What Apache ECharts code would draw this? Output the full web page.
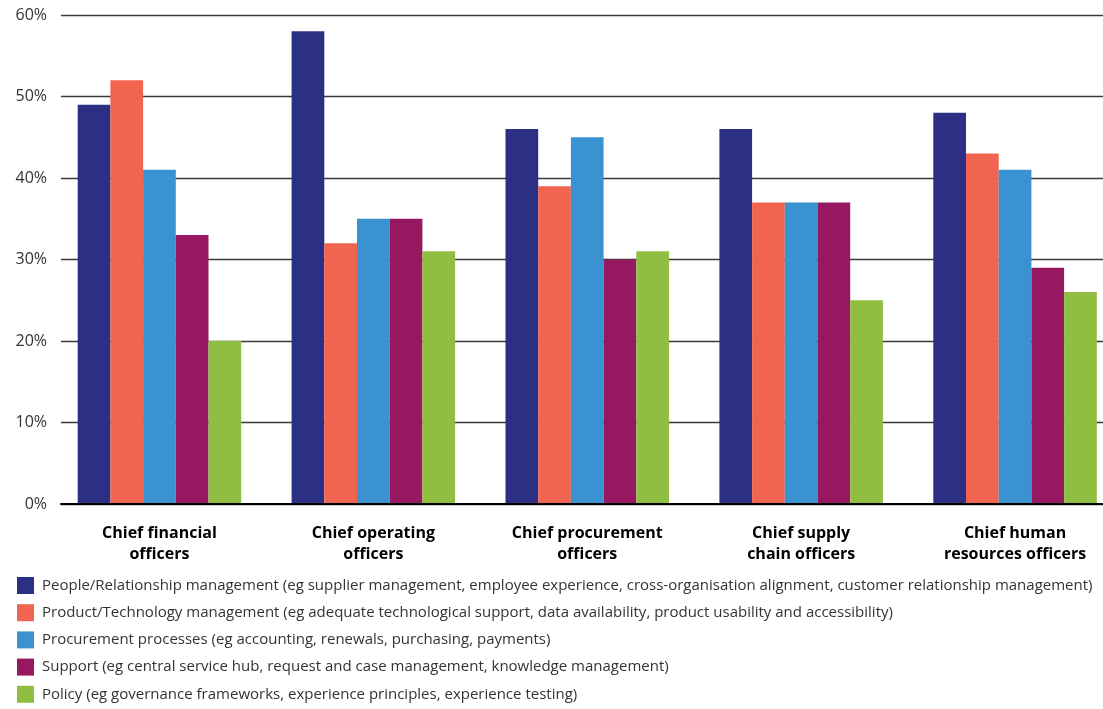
<!DOCTYPE html>
<html>
<head>
<meta charset="utf-8">
<script src="https://cdn.jsdelivr.net/npm/echarts@6/dist/echarts.min.js"></script>
<style>
  html, body { margin: 0; padding: 0; background: #fff; }
  #chart { width: 1103px; height: 709px; }
</style>
</head>
<body>
<div id="chart"></div>
<script>
// Roles surveyed
const categories = [
  'Chief financial\nofficers',
  'Chief operating\nofficers',
  'Chief procurement\nofficers',
  'Chief supply\nchain officers',
  'Chief human\nresources officers'
];

// Share of respondents (%) per priority area
const peopleRelationship = [49, 58, 46, 46, 48];
const productTechnology  = [52, 32, 39, 37, 43];
const procurementProc    = [41, 35, 45, 37, 41];
const supportValues      = [33, 35, 30, 37, 29];
const policyValues       = [20, 31, 31, 25, 26];

const seriesNames = [
  'People/Relationship management (eg supplier management, employee experience, cross-organisation alignment, customer relationship management)',
  'Product/Technology management (eg adequate technological support, data availability, product usability and accessibility)',
  'Procurement processes (eg accounting, renewals, purchasing, payments)',
  'Support (eg central service hub, request and case management, knowledge management)',
  'Policy (eg governance frameworks, experience principles, experience testing)'
];
const seriesColors = ['#2b3085', '#f06450', '#3a92d0', '#961860', '#90be40'];
const seriesData = [peopleRelationship, productTechnology, procurementProc, supportValues, policyValues];

const yTicks = [0, 10, 20, 30, 40, 50, 60];

const FONT = '"Open Sans", "Noto Sans", sans-serif';
const chart = echarts.init(document.getElementById('chart'), null, { renderer: 'canvas' });

chart.setOption({
  animation: false,
  textStyle: { fontFamily: FONT },
  legend: {
    orient: 'vertical',
    left: 17,
    top: 577,
    bottom: 0,
    padding: 0,
    itemWidth: 17,
    itemHeight: 17,
    itemGap: 10.2,
    icon: 'rect',
    textStyle: { fontFamily: FONT, fontSize: 15, color: '#333', lineHeight: 17, padding: [0, 0, 0, 3] },
    data: seriesNames
  },
  grid: [
    // frame for value axis, gridlines and baseline
    { left: 61, right: 0, top: 15, bottom: 205, outerBoundsMode: 'none' },
    // bar area (runs slightly past the right edge)
    { left: 52.5, right: -19, top: 15, bottom: 205, outerBoundsMode: 'none' }
  ],
  xAxis: [
    {
      gridIndex: 0,
      type: 'category',
      data: categories,
      axisLine: { show: true, lineStyle: { color: '#000', width: 2 } },
      axisTick: { show: false },
      axisLabel: { show: false },
      z: 5
    },
    {
      gridIndex: 1,
      type: 'category',
      data: categories,
      axisLine: { show: false },
      axisTick: { show: false },
      axisLabel: {
        margin: 19,
        fontFamily: FONT,
        fontSize: 16,
        fontWeight: 'bold',
        color: '#000',
        lineHeight: 21,
        offset: [-5, 0]
      }
    }
  ],
  yAxis: [
    {
      gridIndex: 0,
      type: 'value',
      min: yTicks[0],
      max: yTicks[yTicks.length - 1],
      interval: 10,
      axisLine: { show: false },
      axisTick: { show: false },
      axisLabel: {
        formatter: v => v + '%',
        fontFamily: FONT,
        fontSize: 16,
        color: '#333',
        margin: 14
      },
      splitLine: { show: true, lineStyle: { color: '#3a3a3a', width: 1.3 } }
    },
    {
      gridIndex: 1,
      type: 'value',
      min: yTicks[0],
      max: yTicks[yTicks.length - 1],
      interval: 10,
      show: false,
      splitLine: { show: false }
    }
  ],
  series: seriesNames.map((name, i) => ({
    name,
    type: 'bar',
    xAxisIndex: 1,
    yAxisIndex: 1,
    data: seriesData[i],
    barWidth: 32.7,
    barGap: '0%',
    itemStyle: { color: seriesColors[i] },
    z: 3
  }))
});
</script>
</body>
</html>
